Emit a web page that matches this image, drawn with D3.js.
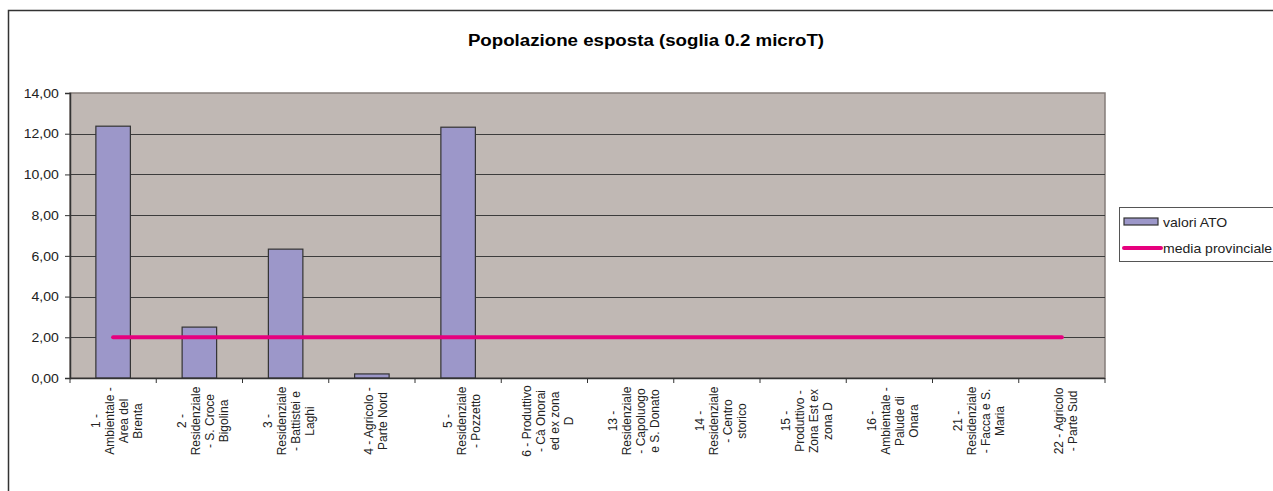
<!DOCTYPE html>
<html>
<head>
<meta charset="utf-8">
<script src="https://cdn.jsdelivr.net/npm/d3@7"></script>
<style>
  html, body { margin: 0; padding: 0; background: #fff; overflow: hidden; }
  svg { display: block; font-family: "Liberation Sans", Arial, sans-serif; }
</style>
</head>
<body>
<div id="chart"></div>
<script>
//Dati del grafico
const categories = [
    '1 - Ambientale - Area del Brenta',
    '2 - Residenziale - S. Croce Bigolina',
    '3 - Residenziale - Battistei e Laghi',
    '4 - Agricolo - Parte Nord',
    '5 - Residenziale - Pozzetto',
    '6 - Produttivo - Cà Onorai ed ex zona D',
    '13 - Residenziale - Capoluogo e S. Donato',
    '14 - Residenziale - Centro storico',
    '15 - Produttivo - Zona Est ex zona D',
    '16 - Ambientale - Palude di Onara',
    '21 - Residenziale - Facca e S. Maria',
    '22 - Agricolo - Parte Sud'
];

//Etichette asse X (a capo come nell'originale)
const tickLines = [
    ['1 -', 'Ambientale -', 'Area del', 'Brenta'],
    ['2 -', 'Residenziale', '- S. Croce', 'Bigolina'],
    ['3 -', 'Residenziale', '- Battistei e', 'Laghi'],
    ['4 - Agricolo -', 'Parte Nord'],
    ['5 -', 'Residenziale', '- Pozzetto'],
    ['6 - Produttivo', '- Cà Onorai', 'ed  ex zona', 'D'],
    ['13 -', 'Residenziale', '- Capoluogo', 'e S. Donato'],
    ['14 -', 'Residenziale', '- Centro', 'storico'],
    ['15 -', 'Produttivo -', 'Zona Est ex', 'zona D'],
    ['16 -', 'Ambientale -', 'Palude di', 'Onara'],
    ['21 -', 'Residenziale', '- Facca e S.', 'Maria'],
    ['22 - Agricolo', '- Parte Sud']
];

const valoriATO = [12.37, 2.50, 6.33, 0.20, 12.32, 0, 0, 0, 0, 0, 0, 0];
const mediaProvinciale = [2.00, 2.00, 2.00, 2.00, 2.00, 2.00, 2.00, 2.00, 2.00, 2.00, 2.00, 2.00];
const yTicks = [0, 2, 4, 6, 8, 10, 12, 14];

const TITLE = 'Popolazione esposta (soglia 0.2 microT)';
const SERIES_BAR = 'valori ATO', SERIES_LINE = 'media provinciale';

//Colori
const COLOR_PLOT = '#c0b8b4',
COLOR_BAR = '#9c97c9',
COLOR_LINE = '#e6007e',
COLOR_GRID = '#3c3c3c',
COLOR_DARK = '#333333';

let width = 1273, height = 491;
let plot = {left: 70, right: 1105, top: 93, bottom: 378};

let svg = d3.select('#chart')
    .append('svg')
        .attr('width', width)
        .attr('height', height);

//Bordo esterno
svg.append('rect')
    .attr('x', 8.5).attr('y', 10.5)
    .attr('width', 1300).attr('height', 520)
    .attr('fill', '#fff')
    .attr('stroke', COLOR_DARK)
    .attr('stroke-width', 1.5);

//Titolo
svg.append('g')
    .attr('transform', 'translate(646,46) scale(1.1,1)')
    .append('text')
        .attr('text-anchor', 'middle')
        .attr('font-size', '17px')
        .attr('font-weight', 'bold')
        .attr('fill', '#000')
        .text(TITLE);

//Scale
let x = d3.scaleBand()
    .domain(categories)
    .range([plot.left, plot.right])
    .paddingInner(0.6)
    .paddingOuter(0.3);

let y = d3.scaleLinear()
    .domain([0, 14])
    .range([plot.bottom, plot.top]);

//Sfondo area del grafico
svg.append('rect')
    .attr('x', plot.left).attr('y', plot.top)
    .attr('width', plot.right - plot.left)
    .attr('height', plot.bottom - plot.top)
    .attr('fill', COLOR_PLOT)
    .attr('stroke', '#857d7a')
    .attr('stroke-width', 1.5);

//Griglia
svg.append('g')
    .selectAll('line')
    .data(yTicks.filter(d => d > 0 && d < 14))
    .enter()
    .append('line')
        .attr('x1', plot.left).attr('x2', plot.right)
        .attr('y1', d => Math.round(y(d)) + 0.5)
        .attr('y2', d => Math.round(y(d)) + 0.5)
        .attr('stroke', COLOR_GRID)
        .attr('stroke-width', 1);

//Barre
svg.append('g')
    .selectAll('rect')
    .data(valoriATO)
    .enter()
    .append('rect')
        .attr('x', (d, i) => x(categories[i]))
        .attr('y', d => y(d))
        .attr('width', x.bandwidth())
        .attr('height', d => y(0) - y(d))
        .attr('fill', COLOR_BAR)
        .attr('stroke', COLOR_DARK)
        .attr('stroke-width', 1.2);

//Linea media provinciale
let line = d3.line()
    .x((d, i) => x(categories[i]) + x.bandwidth() / 2)
    .y(d => y(d));

svg.append('path')
    .datum(mediaProvinciale)
    .attr('d', line)
    .attr('fill', 'none')
    .attr('stroke', COLOR_LINE)
    .attr('stroke-width', 4)
    .attr('stroke-linecap', 'round');

//Asse Y
let yAxis = d3.axisLeft(y)
    .tickValues(yTicks)
    .tickSize(5)
    .tickPadding(6)
    .tickFormat(d => d3.format('.2f')(d).replace('.', ','));

let gy = svg.append('g')
    .attr('transform', 'translate(' + plot.left + ',0)')
    .call(yAxis);
gy.select('.domain').attr('stroke', COLOR_DARK).attr('stroke-width', 1.5);
gy.selectAll('.tick line').attr('stroke', COLOR_DARK);
gy.selectAll('.tick text')
    .attr('font-size', '13px')
    .attr('fill', '#222')
    .attr('font-family', '"Liberation Sans", Arial, sans-serif')
    .attr('transform', function() {
        //leggero allargamento orizzontale come nell'originale
        return 'translate(-9,0) scale(1.08,1) translate(9,0)';
    });

//Asse X: tacche ai confini delle categorie
let boundaries = categories.map(c => x(c) - x.step() * 0.3).concat([plot.right]);

svg.append('line')
    .attr('x1', plot.left).attr('x2', plot.right)
    .attr('y1', plot.bottom + 0.5).attr('y2', plot.bottom + 0.5)
    .attr('stroke', COLOR_DARK)
    .attr('stroke-width', 1.5);

svg.append('g')
    .selectAll('line')
    .data(boundaries)
    .enter()
    .append('line')
        .attr('x1', d => d).attr('x2', d => d)
        .attr('y1', plot.bottom).attr('y2', plot.bottom + 5)
        .attr('stroke', COLOR_DARK);

//Etichette ruotate
let lineH = 12.8;
let labels = svg.append('g')
    .selectAll('g')
    .data(tickLines)
    .enter()
    .append('g')
        .attr('transform', (d, i) => 'translate(' + (x(categories[i]) + x.bandwidth() / 2 + 3) + ',421) scale(1.1,1) rotate(-90)');

labels.each(function(lines) {
    let t = d3.select(this).append('text')
        .attr('text-anchor', 'middle')
        .attr('font-size', '12px')
        .attr('fill', '#222');
    lines.forEach(function(l, j) {
        t.append('tspan')
            .attr('x', 0)
            .attr('y', (j - (lines.length - 1) / 2) * lineH)
            .attr('dy', '0.36em')
            .text(l);
    });
});

//Legenda
let legend = svg.append('g');
legend.append('rect')
    .attr('x', 1119.5).attr('y', 207.5)
    .attr('width', 200).attr('height', 54)
    .attr('fill', '#fff')
    .attr('stroke', '#555')
    .attr('stroke-width', 1);

legend.append('rect')
    .attr('x', 1124).attr('y', 218)
    .attr('width', 34).attr('height', 7)
    .attr('fill', COLOR_BAR)
    .attr('stroke', COLOR_DARK)
    .attr('stroke-width', 1.2);

legend.append('line')
    .attr('x1', 1124).attr('x2', 1161)
    .attr('y1', 248).attr('y2', 248)
    .attr('stroke', COLOR_LINE)
    .attr('stroke-width', 4)
    .attr('stroke-linecap', 'round');

[[SERIES_BAR, 222], [SERIES_LINE, 248]].forEach(function(item) {
    legend.append('g')
        .attr('transform', 'translate(1163,' + item[1] + ') scale(1.08,1)')
        .append('text')
            .attr('dy', '0.36em')
            .attr('font-size', '13px')
            .attr('fill', '#222')
            .text(item[0]);
});
</script>
</body>
</html>
